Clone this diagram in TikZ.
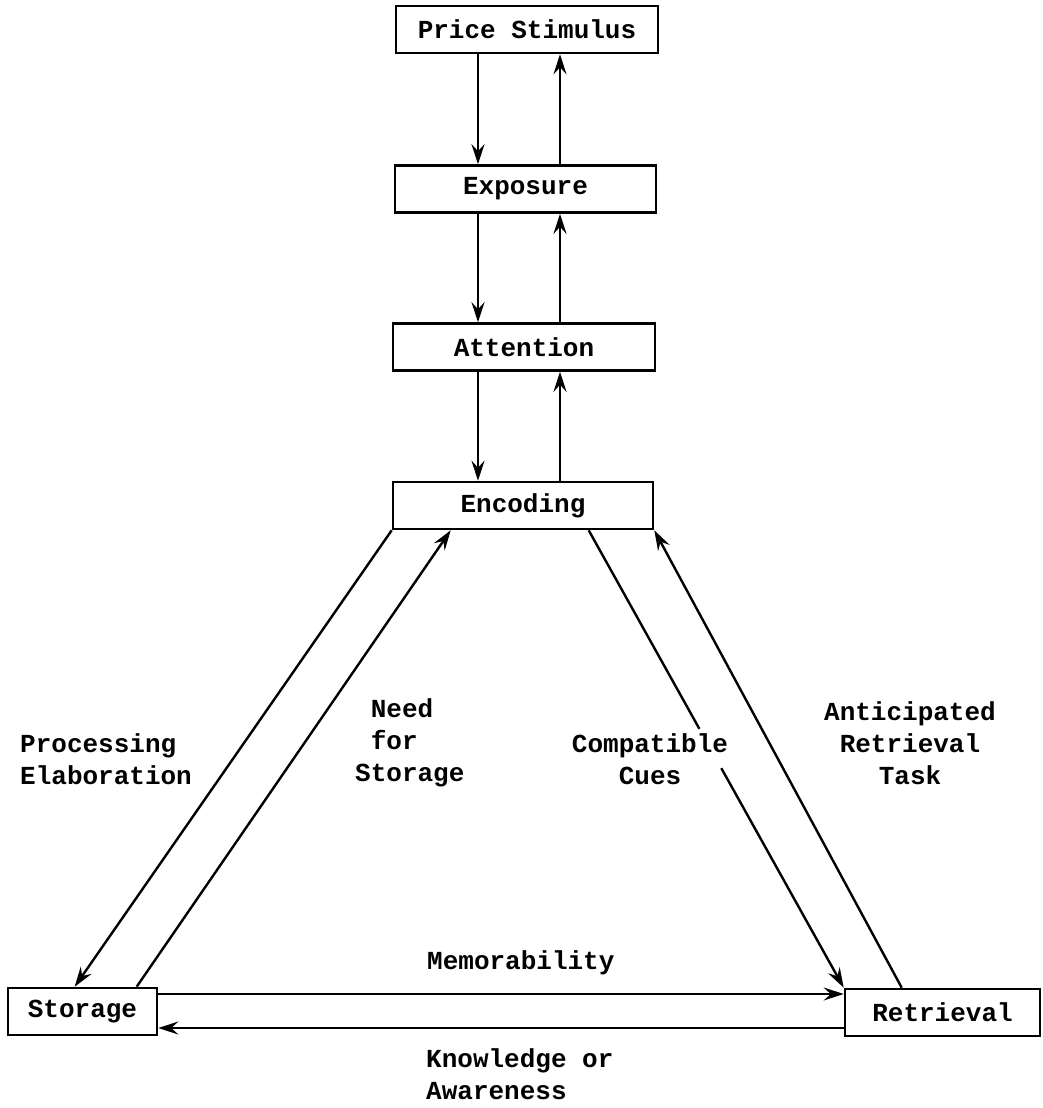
\documentclass[tikz,border=0pt]{standalone}
\usepackage{fontspec}
\setmainfont{Liberation Mono}
\usetikzlibrary{arrows.meta,calc}
\tikzset{
  box/.style={draw, line width=2.6pt, minimum height=47pt, inner sep=0pt},
  conn/.style={line width=2.4pt},
  arr/.style={line width=2.4pt, -{Stealth[length=20pt,width=13pt,inset=7pt]}},
  lbl/.style={inner sep=0pt, font=\fontsize{26}{32}\selectfont\bfseries},
}
\begin{document}
\begin{tikzpicture}[x=1pt,y=-1pt, every node/.style={font=\fontsize{26}{32}\selectfont\bfseries}]
\useasboundingbox (0,0) rectangle (1042,1108);
% boxes
\node[box, minimum width=262pt] (PS)  at (527,29.5)   {Price Stimulus};
\node[box, minimum width=261pt] (Exp) at (525.5,189)  {Exposure};
\node[box, minimum width=262pt] (Att) at (524,347)    {Attention};
\node[box, minimum width=260pt] (Enc) at (523,505.5)  {Encoding};
\node[box, minimum width=149pt] (Sto) at (82.5,1011.5) {Storage};
\node[box, minimum width=195pt] (Ret) at (942.5,1012.5) {Retrieval};
% column coordinates
\coordinate (xl) at (478,0);
\coordinate (xr) at (560,0);
\coordinate (ym) at (0,994);
\coordinate (yk) at (0,1028);
% vertical arrows
\draw[arr] (PS.south -| xl) -- (Exp.north -| xl);
\draw[arr] (Exp.north -| xr) -- (PS.south -| xr);
\draw[arr] (Exp.south -| xl) -- (Att.north -| xl);
\draw[arr] (Att.north -| xr) -- (Exp.south -| xr);
\draw[arr] (Att.south -| xl) -- (Enc.north -| xl);
\draw[arr] (Enc.north -| xr) -- (Att.south -| xr);
% diagonals
\draw[arr] (Enc.south west) -- ([xshift=68pt]Sto.north west);
\draw[arr] ([xshift=130pt]Sto.north west) -- ([xshift=59pt]Enc.south west);
\coordinate (cs) at ([xshift=197pt]Enc.south west);
\coordinate (ce) at (Ret.north west);
\draw[conn] (cs) -- ($(cs)!0.434!(ce)$);
\draw[arr] ($(cs)!0.52!(ce)$) -- (ce);
\draw[arr] ([xshift=58pt]Ret.north west) -- (Enc.south east);
% horizontal arrows
\draw[arr] (Sto.east |- ym) -- (Ret.west |- ym);
\draw[arr] (Ret.west |- yk) -- (Sto.east |- yk);
% labels
\node[lbl, anchor=west, align=left] (lpe) at (20,759) {Processing\\Elaboration};
\node[lbl, anchor=west, align=left] (lns) at (355,743) {\phantom{S}Need\\\phantom{S}for\\Storage};
\node[lbl, align=center] (lcc) at (650,759) {Compatible\\Cues};
\node[lbl, align=center] (lar) at (910,743) {Anticipated\\Retrieval\\Task};
\node[lbl, anchor=west] (lme) at (427,963) {Memorability};
\node[lbl, anchor=west, align=left] (lka) at (426,1074) {Knowledge or\\Awareness};
\end{tikzpicture}
\end{document}
